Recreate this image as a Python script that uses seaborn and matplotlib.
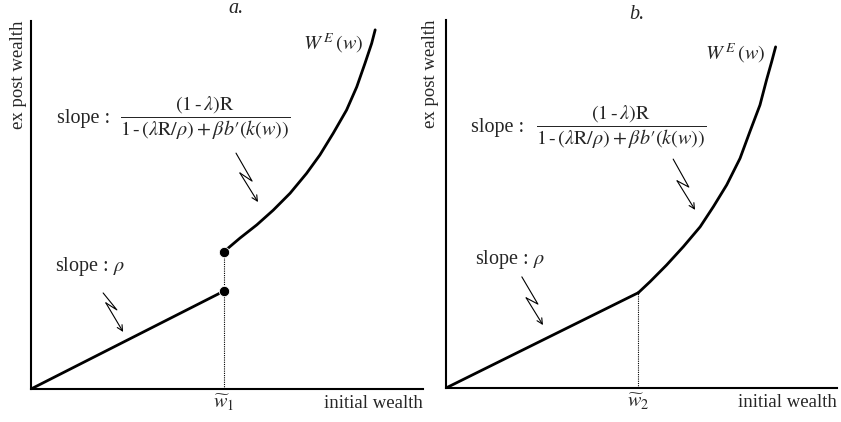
import numpy as np
import matplotlib
matplotlib.use('Agg')
import matplotlib.pyplot as plt
import seaborn as sns

sns.set_style('white')
plt.rcParams['font.family'] = ['Liberation Serif', 'DejaVu Serif']
plt.rcParams['mathtext.fontset'] = 'stix'

# panel a: linear part, jump, convex part
a_lin_x = [0, 49.2]
a_lin_y = [0, 26.6]
a_curve_x = [49.2, 53.3, 57.6, 61.8, 66.1, 70.3, 73.7, 77.1, 80.5, 83.1, 85.2, 86.9, 87.8]
a_curve_y = [37.3, 41.0, 44.6, 48.6, 53.2, 58.6, 63.6, 69.5, 75.8, 82.1, 88.5, 93.9, 97.6]
a_dots_x = [49.2, 49.2]
a_dots_y = [26.6, 37.3]

# panel b: linear part then convex part (continuous)
b_lin_x = [0, 49.2]
b_lin_y = [0, 25.9]
b_curve_x = [49.2, 52.2, 56.4, 60.7, 65.0, 68.4, 71.8, 75.2, 77.7, 80.3, 82.0, 83.3, 84.3]
b_curve_y = [25.9, 28.9, 33.4, 38.4, 43.8, 49.3, 55.2, 62.4, 69.6, 76.9, 83.8, 88.7, 92.7]

# zigzag pointers
a_arrow1_x = [52.3, 56.4, 53.3, 57.9]
a_arrow1_y = [64.1, 56.5, 58.7, 50.8]
a_arrow2_x = [18.4, 21.9, 19.1, 23.5]
a_arrow2_y = [26.1, 21.5, 23.4, 15.5]
b_arrow1_x = [58.1, 62.1, 59.1, 63.7]
b_arrow1_y = [62.2, 54.6, 56.3, 48.4]
b_arrow2_x = [19.4, 23.5, 20.5, 24.8]
b_arrow2_y = [30.2, 22.8, 24.5, 17.1]

frac = r"$\dfrac{(1\,\text{-}\,\lambda)\mathrm{R}}{1\,\text{-}\,(\lambda\mathrm{R}/\rho)+\beta b′(k(w))}$"
W_label = r"$W^{\,E}\,(w)$"

FS = 14.5
FS_AX = 13.5

fig = plt.figure(figsize=(8.41, 4.22), dpi=100)
axa = fig.add_axes([31/841, 33/422, 392/841, 368/422])
axb = fig.add_axes([446/841, 34/422, 391/841, 368/422])


def zigzag(ax, xs, ys):
    ax.plot(xs[:-1], ys[:-1], color='black', lw=0.8, clip_on=False)
    ax.annotate('', xy=(xs[-1], ys[-1]), xytext=(xs[-2], ys[-2]),
                arrowprops=dict(arrowstyle='->', color='black', lw=0.8,
                                shrinkA=0, shrinkB=0, mutation_scale=10))


def base(ax, title, tx, ty, wt_x, wt_label, ylab_pad):
    ax.set_xlim(0, 100)
    ax.set_ylim(0, 100)
    for s in ['top', 'right']:
        ax.spines[s].set_visible(False)
    for s in ['left', 'bottom']:
        ax.spines[s].set_color('black')
        ax.spines[s].set_linewidth(1.5)
    ax.set_yticks([])
    ax.set_xticks([wt_x])
    ax.set_xticklabels([wt_label], fontsize=FS)
    ax.tick_params(axis='x', length=0, pad=3)
    ax.set_ylabel('ex post wealth', loc='top', fontsize=FS_AX, labelpad=ylab_pad)
    ax.text(1.0, -0.04, 'initial wealth', transform=ax.transAxes,
            ha='right', va='center', fontsize=FS_AX)
    ax.text(tx, ty, title, style='italic', ha='center', va='center',
            fontsize=FS, clip_on=False)


# panel a
base(axa, 'a.', 52.3, 103.5, a_lin_x[1], r"$\widetilde{w}_1$", 3)
sns.lineplot(x=a_lin_x, y=a_lin_y, ax=axa, color='black', lw=2, sort=False)
sns.lineplot(x=a_curve_x, y=a_curve_y, ax=axa, color='black', lw=2, sort=False)
sns.scatterplot(x=a_dots_x, y=a_dots_y, ax=axa, color='black', s=55, zorder=5)
axa.plot([a_dots_x[0], a_dots_x[0]], [0, a_dots_y[1]], color='black',
         lw=0.8, ls=(0, (1, 1)))
axa.text(77, 94, W_label, ha='center', va='center', fontsize=FS)
axa.text(13.5, 73.6, 'slope :', ha='center', va='center', fontsize=FS)
axa.text(44.4, 73.6, frac, ha='center', va='center', fontsize=FS)
axa.text(15.1, 33.4, r'slope : $\rho$', ha='center', va='center', fontsize=FS)
zigzag(axa, a_arrow1_x, a_arrow1_y)
zigzag(axa, a_arrow2_x, a_arrow2_y)

# panel b
base(axb, 'b.', 48.8, 101.6, b_lin_x[1], r"$\widetilde{w}_2$", 5)
sns.lineplot(x=b_lin_x, y=b_lin_y, ax=axb, color='black', lw=2, sort=False)
sns.lineplot(x=b_curve_x, y=b_curve_y, ax=axb, color='black', lw=2, sort=False)
axb.plot([b_lin_x[1], b_lin_x[1]], [0, b_lin_y[1]], color='black',
         lw=0.8, ls=(0, (1, 1)))
axb.text(73.9, 90.8, W_label, ha='center', va='center', fontsize=FS)
axb.text(13.1, 70.7, 'slope :', ha='center', va='center', fontsize=FS)
axb.text(44.9, 70.7, frac, ha='center', va='center', fontsize=FS)
axb.text(16.4, 34.8, r'slope : $\rho$', ha='center', va='center', fontsize=FS)
zigzag(axb, b_arrow1_x, b_arrow1_y)
zigzag(axb, b_arrow2_x, b_arrow2_y)

fig.savefig('out.png', dpi=100)
